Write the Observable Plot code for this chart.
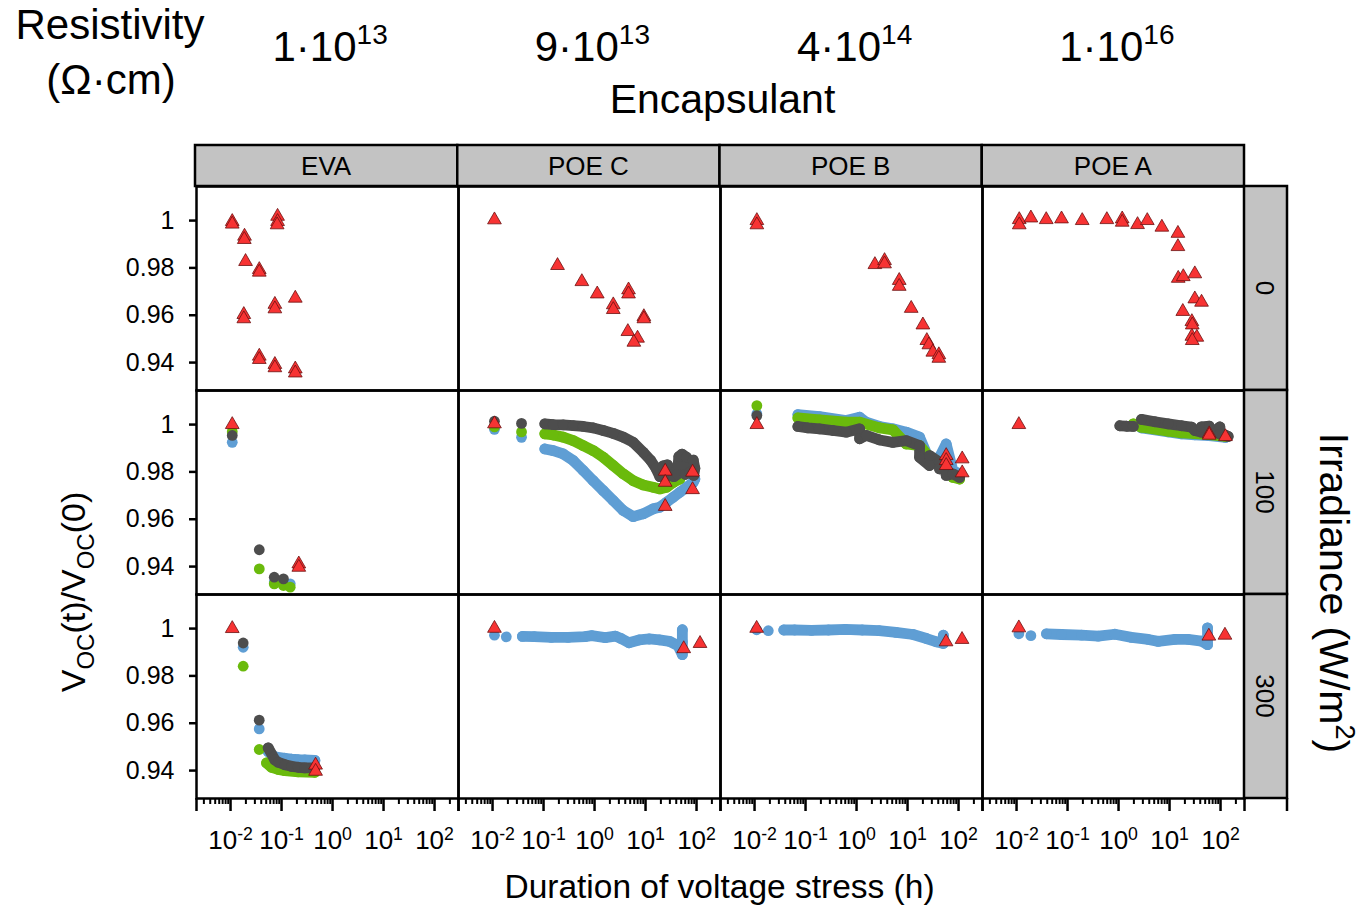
<!DOCTYPE html>
<html><head><meta charset="utf-8">
<script src="https://cdn.jsdelivr.net/npm/d3@7"></script>
<script src="https://cdn.jsdelivr.net/npm/@observablehq/plot@0.6"></script>
<style>
body{margin:0;background:#fff;}
#chart{position:relative;width:1358px;height:907px;}
</style></head><body><div id="chart"></div>
<script>
// ---------- categories & labels ----------
const encapsulants = ["EVA", "POE C", "POE B", "POE A"];
const resistivityMantissa = ["1", "9", "4", "1"];
const resistivityExponent = ["13", "13", "14", "16"];
const irradiances = [0, 100, 300];
const xMajorTicks = [0.01, 0.1, 1, 10, 100];
const xMinorTicks = [0.003,0.004,0.005,0.006,0.007,0.008,0.009,0.02,0.03,0.04,0.05,0.06,0.07,0.08,0.09,0.2,0.3,0.4,0.5,0.6,0.7,0.8,0.9,2,3,4,5,6,7,8,9,20,30,40,50,60,70,80,90,200];
const xDomain = [0.00215, 295];
const yTicks = [0.94, 0.96, 0.98, 1];
const yDomain = [0.9282, 1.0144];

// ---------- data: [encapsulant, irradiance, segment, [[hours, Voc ratio], ...]] ----------
const triangleGroups = [
  ["EVA", 0, 0, [[0.0108,0.9996],[0.0108,0.9985],[0.0188,0.9934],[0.0186,0.9920],[0.0197,0.9827],[0.0366,0.9793],[0.0366,0.9782],[0.0836,1.0018],[0.0836,0.9996],[0.082,0.9982],[0.186,0.9672],[0.074,0.9646],[0.074,0.9627],[0.0182,0.9603],[0.0182,0.9585],[0.0366,0.9427],[0.0366,0.9413],[0.074,0.9392],[0.074,0.9378],[0.186,0.9373],[0.186,0.9356]]],
  ["POE C", 0, 0, [[0.0109,1.0003],[0.188,0.9810],[0.564,0.9742],[1.13,0.9690],[2.33,0.9644],[2.33,0.9624],[4.64,0.9707],[4.64,0.9690],[9.27,0.9594],[9.27,0.9585],[4.5,0.9531],[6.97,0.9503],[5.9,0.9486]]],
  ["POE B", 0, 0, [[0.0111,1.0],[0.0111,0.9982],[2.29,0.9814],[3.54,0.9831],[3.54,0.9817],[6.87,0.9747],[6.87,0.9722],[11.8,0.9629],[20.0,0.9559],[23.9,0.9493],[26.2,0.9475],[31.3,0.9444],[41.1,0.9433],[41.1,0.9418]]],
  ["POE A", 0, 0, [[0.0113,1.0004],[0.0113,0.9982],[0.0191,1.0011],[0.0382,1.0004],[0.0762,1.0007],[0.194,1.0],[0.590,1.0004],[1.18,1.0007],[1.18,0.9993],[2.36,0.9983],[3.66,1.0],[7.07,0.9972],[14.6,0.9946],[14.6,0.9890],[14.8,0.9756],[18.6,0.9763],[31.3,0.9775],[31.3,0.9669],[42.4,0.9655],[18.2,0.9616],[27.4,0.9573],[27.9,0.9559],[27.4,0.9511],[34.3,0.9507],[27.9,0.9493]]],
  ["EVA", 100, 0, [[0.0108,1.0],[0.218,0.9411],[0.218,0.9397]]],
  ["POE C", 100, 0, [[0.0109,1.0003],[24.3,0.9803],[24.3,0.9756],[24.3,0.9654],[83.6,0.9799],[83.6,0.9725]]],
  ["POE B", 100, 0, [[0.0111,1.0],[57.3,0.9869],[57.3,0.9848],[57.3,0.9827],[118,0.9855],[118,0.9796]]],
  ["POE A", 100, 0, [[0.0111,1.0],[60.0,0.9961],[60.0,0.9955],[125,0.9949]]],
  ["EVA", 300, 0, [[0.0108,1.0],[0.465,0.9423],[0.465,0.9397]]],
  ["POE C", 300, 0, [[0.0109,1.0001],[56.1,0.9915],[117,0.9937]]],
  ["POE B", 300, 0, [[0.011,1.0001],[56.9,0.9944],[117,0.9954]]],
  ["POE A", 300, 0, [[0.0111,1.0003],[59.0,0.9968],[122,0.9972]]]
];

const blueGroups = [
  ["EVA", 100, 0, [[0.0108,0.9925],[0.072,0.9335],[0.109,0.9330],[0.148,0.9327]]],
  ["POE C", 100, 0, [[0.0109,0.9980],[0.037,0.9946]]],
  ["POE C", 100, 1, [[0.106,0.9897],[0.155,0.9890],[0.243,0.9876],[0.382,0.9848],[0.600,0.9806],[0.942,0.9763],[1.48,0.9721],[2.32,0.9679],[3.65,0.9637],[5.73,0.9611],[9.0,0.9623],[14.1,0.9644],[19.1,0.9651],[25.8,0.9672],[34.9,0.9693],[47.1,0.9714],[63.7,0.9735],[86.1,0.9756],[92.7,0.9770]]],
  ["POE B", 100, 0, [[0.0111,1.0045]]],
  ["POE B", 100, 1, [[0.0708,1.0042],[0.188,1.0034],[0.627,1.0017],[1.15,1.0031],[1.55,1.0010],[2.82,0.9992],[5.16,0.9982],[9.42,0.9968],[17.2,0.9947],[27.0,0.9848],[42.4,0.9862],[57.3,0.9918],[77.4,0.9806],[105,0.9792]]],
  ["POE A", 100, 1, [[2.82,0.9986],[9.42,0.9969],[17.2,0.9961],[31.4,0.9957],[60.0,0.9953],[125,0.9946]]],
  ["EVA", 300, 0, [[0.0177,0.9921],[0.0365,0.9576]]],
  ["EVA", 300, 1, [[0.0548,0.9480],[0.074,0.9458],[0.116,0.9452],[0.157,0.9448],[0.212,0.9446],[0.286,0.9445],[0.451,0.9443]]],
  ["POE C", 300, 0, [[0.0109,0.9972],[0.0186,0.9965]]],
  ["POE C", 300, 1, [[0.0385,0.9967],[0.066,0.9966],[0.1416,0.9963],[0.303,0.9963],[0.651,0.9966],[0.881,0.9970],[1.62,0.9962],[2.57,0.9968],[3.3,0.9958],[4.73,0.9940],[7.5,0.9952],[11.8,0.9956],[18.7,0.9952],[29.6,0.9946],[43.3,0.9928],[52.7,0.9890],[52.7,0.9995],[52.7,0.9944]]],
  ["POE B", 300, 0, [[0.011,0.9995],[0.0186,0.9991]]],
  ["POE B", 300, 1, [[0.0374,0.9994],[0.0611,0.9994],[0.131,0.9992],[0.281,0.9994],[0.603,0.9997],[1.29,0.9994],[2.77,0.9991],[5.95,0.9984],[12.8,0.9975],[23.5,0.9958],[37.1,0.9944],[50.4,0.9937],[50.4,0.9972]]],
  ["POE A", 300, 0, [[0.0111,0.9978],[0.0191,0.9970]]],
  ["POE A", 300, 1, [[0.0387,0.9978],[0.0762,0.9975],[0.188,0.9972],[0.399,0.9968],[0.847,0.9976],[1.80,0.9963],[3.82,0.9954],[6.0,0.9946],[12.7,0.9954],[23.2,0.9954],[42.4,0.9947],[55.6,0.9932],[55.6,1.0003]]]
];

const greenGroups = [
  ["EVA", 100, 0, [[0.0108,0.9970],[0.0366,0.9390],[0.0719,0.9327],[0.109,0.9320],[0.148,0.9313]]],
  ["POE C", 100, 0, [[0.0109,0.9990],[0.037,0.9969]]],
  ["POE C", 100, 1, [[0.106,0.9961],[0.155,0.9956],[0.243,0.9947],[0.382,0.9932],[0.600,0.9911],[0.942,0.9890],[1.48,0.9862],[2.32,0.9827],[3.65,0.9792],[5.73,0.9763],[9.0,0.9745],[14.1,0.9735],[19.1,0.9728],[25.8,0.9735],[34.9,0.9756],[47.1,0.9770]]],
  ["POE B", 100, 0, [[0.0111,1.0080]]],
  ["POE B", 100, 1, [[0.0708,1.0028],[0.188,1.0020],[0.627,1.0010],[1.15,1.0010],[2.82,0.9986],[5.16,0.9978],[9.42,0.9918],[17.2,0.9911],[27.0,0.9862],[42.4,0.9834],[57.3,0.9806],[77.4,0.9777],[105,0.9770]]],
  ["POE A", 100, 1, [[1.94,1.0003],[2.82,0.9989],[9.42,0.9972],[17.2,0.9965],[31.4,0.9962],[60.0,0.9958],[125,0.9950]]],
  ["EVA", 300, 0, [[0.0177,0.9841],[0.0365,0.9489]]],
  ["EVA", 300, 1, [[0.0508,0.9432],[0.0637,0.9414],[0.0861,0.9405],[0.116,0.9400],[0.212,0.9395],[0.451,0.9393]]]
];

const grayGroups = [
  ["EVA", 100, 0, [[0.0108,0.9954],[0.0366,0.9471],[0.0719,0.9355],[0.109,0.9348]]],
  ["POE C", 100, 0, [[0.0109,1.0014],[0.037,1.0005]]],
  ["POE C", 100, 1, [[0.106,1.0003],[0.155,1.0],[0.243,0.9999],[0.382,0.9996],[0.600,0.9992],[0.942,0.9986],[1.48,0.9975],[2.32,0.9963],[3.65,0.9947],[5.73,0.9925],[9.0,0.9883],[12.5,0.9850],[16.0,0.9815],[19.1,0.9780],[22.0,0.9825],[27.0,0.9830],[30.0,0.9785],[36.0,0.9780],[42.0,0.9790],[45.0,0.9865],[52.0,0.9875],[63.7,0.9862],[60.0,0.9790],[75.0,0.9800],[86.1,0.9850],[92.7,0.9815],[88.0,0.9785]]],
  ["POE B", 100, 0, [[0.0111,1.0038]]],
  ["POE B", 100, 1, [[0.0708,0.9992],[0.111,0.9986],[0.188,0.9982],[0.344,0.9975],[0.627,0.9968],[1.15,0.9982],[1.15,0.9940],[1.55,0.9954],[2.82,0.9935],[5.16,0.9925],[9.42,0.9932],[17.2,0.9911],[17.2,0.9862],[27.0,0.9827],[27.0,0.9869],[42.4,0.9841],[42.4,0.9813],[57.3,0.9806],[57.3,0.9785],[77.4,0.9792],[105,0.9777]]],
  ["POE A", 100, 1, [[1.06,0.9995],[1.44,0.9993],[1.94,0.9992]]],
  ["POE A", 100, 2, [[2.82,1.0022],[5.16,1.0012],[9.42,1.0003],[17.2,0.9995],[27.0,0.9989],[31.4,0.9975],[42.4,0.9968],[42.4,0.9990],[60.0,0.9993],[66.6,0.9962],[97.0,0.9990],[97.0,0.9960],[125,0.9955],[141,0.9950]]],
  ["EVA", 300, 0, [[0.0177,0.9939],[0.0365,0.9613]]],
  ["EVA", 300, 1, [[0.0548,0.9496],[0.074,0.9445],[0.0861,0.9435],[0.116,0.9425],[0.157,0.9418],[0.212,0.9414],[0.286,0.9411],[0.451,0.9411]]]
];

// ---------- styles ----------
const FONT = "'Liberation Sans', Arial, sans-serif";
const BLUE = "#5f9ed4", GREEN = "#6aba0c", GRAY = "#4d4d4d", RED = "#f73333", REDSTROKE = "#6b1010";
const W = 1358, H = 907, mL = 195, mR = 114, mT = 186, mB = 109;
const DOT_R = 5.4;

const flat = groups => groups.flatMap(([enc, irr, seg, pts]) => pts.map(([t, v]) => ({enc, irr, seg, t, v})));
const tri = flat(triangleGroups), blue = flat(blueGroups), green = flat(greenGroups), gray = flat(grayGroups);

function seriesMarks(rows, color) {
  return [
    Plot.line(rows, {filter: d => d.seg > 0, x: "t", y: "v", fx: "enc", fy: "irr", z: d => d.enc + d.irr + "-" + d.seg,
      stroke: color, strokeWidth: DOT_R * 2, strokeLinecap: "round", strokeLinejoin: "round"}),
    Plot.dot(rows, {x: "t", y: "v", fx: "enc", fy: "irr", r: DOT_R, fill: color})
  ];
}

const svg = Plot.plot({
  width: W, height: H,
  marginTop: mT, marginBottom: mB, marginLeft: mL, marginRight: mR,
  style: {fontFamily: FONT, color: "black", background: "white", overflow: "visible"},
  x: {type: "log", domain: xDomain},
  y: {domain: yDomain},
  fx: {domain: encapsulants, padding: 0, axis: null},
  fy: {domain: irradiances, padding: 0, axis: null},
  marks: [
    ...seriesMarks(blue, BLUE),
    ...seriesMarks(green, GREEN),
    ...seriesMarks(gray, GRAY),
    Plot.dot(tri, {x: "t", y: "v", fx: "enc", fy: "irr", symbol: "triangle", r: 5.1, fill: RED, stroke: REDSTROKE, strokeWidth: 0.8}),
    Plot.frame({stroke: "black", strokeWidth: 2.5}),
    Plot.axisY({ticks: yTicks, tickFormat: d => d === 1 ? "1" : d.toFixed(2), tickSize: 7, tickPadding: 15, fontSize: 25, strokeWidth: 2.5, label: null}),
    Plot.axisX({ticks: xMinorTicks, tickSize: 6, strokeWidth: 2, fill: "none", label: null}),
    Plot.axisX({ticks: xDomain, tickSize: 13, strokeWidth: 2.5, fill: "none", label: null}),
    Plot.axisX({ticks: xMajorTicks, tickFormat: d => "10^" + Math.round(Math.log10(d)), tickSize: 13, tickPadding: 19, fontSize: 26, strokeWidth: 2.5, label: null})
  ]
});

document.getElementById("chart").appendChild(svg);
const s = d3.select(svg);

// superscript exponents on the x tick labels
s.selectAll("text").each(function() {
  if (this.querySelector("tspan")) return;
  const m = (this.textContent || "").match(/^10\^(-?\d+)$/);
  if (!m) return;
  const t = d3.select(this);
  t.text("10");
  t.append("tspan").attr("dy", "-0.5em").attr("font-size", "0.68em").text(m[1]);
});

// ---------- strips ----------
const pw = (W - mL - mR) / encapsulants.length;
const ph = (H - mT - mB) / irradiances.length;
const stripTop = 145, stripRightW = 43;
const g = s.append("g").attr("font-family", FONT);
encapsulants.forEach((e, i) => {
  g.append("rect").attr("x", mL + i * pw).attr("y", stripTop).attr("width", pw).attr("height", mT - stripTop)
    .attr("fill", "#c3c3c3").attr("stroke", "black").attr("stroke-width", 2.5);
  g.append("text").attr("x", mL + i * pw + pw / 2).attr("y", (stripTop + mT) / 2).attr("dy", "0.35em")
    .attr("text-anchor", "middle").attr("font-size", 26).text(e);
  // resistivity headers
  const r = g.append("text").attr("x", mL + i * pw + pw / 2 + 4).attr("y", 61).attr("text-anchor", "middle").attr("font-size", 42);
  r.append("tspan").text(resistivityMantissa[i] + "·10");
  r.append("tspan").attr("dy", -17).attr("font-size", 28).text(resistivityExponent[i]);
});
irradiances.forEach((v, j) => {
  const x0 = W - mR, y0 = mT + j * ph;
  g.append("rect").attr("x", x0).attr("y", y0).attr("width", stripRightW).attr("height", ph)
    .attr("fill", "#c3c3c3").attr("stroke", "black").attr("stroke-width", 2.5);
  g.append("text").attr("transform", `translate(${x0 + stripRightW / 2},${y0 + ph / 2}) rotate(90)`)
    .attr("dy", "0.35em").attr("text-anchor", "middle").attr("font-size", 26).text(v);
});
g.append("line").attr("x1", W - mR + stripRightW).attr("x2", W - mR + stripRightW)
  .attr("y1", H - mB).attr("y2", H - mB + 13).attr("stroke", "black").attr("stroke-width", 2.5);

// ---------- titles ----------
g.append("text").attr("x", 110).attr("y", 39).attr("text-anchor", "middle").attr("font-size", 42).text("Resistivity");
g.append("text").attr("x", 111).attr("y", 94).attr("text-anchor", "middle").attr("font-size", 42).text("(Ω·cm)");
g.append("text").attr("x", mL + 2 * pw + 3).attr("y", 113).attr("text-anchor", "middle").attr("font-size", 41).text("Encapsulant");
g.append("text").attr("x", mL + 2 * pw).attr("y", 898).attr("text-anchor", "middle").attr("font-size", 33.5).text("Duration of voltage stress (h)");

const yl = g.append("text").attr("transform", `translate(85,592) rotate(-90)`).attr("text-anchor", "middle").attr("font-size", 34);
yl.append("tspan").text("V");
yl.append("tspan").attr("dy", 9).attr("font-size", 24).text("OC");
yl.append("tspan").attr("dy", -9).text("(t)/V");
yl.append("tspan").attr("dy", 9).attr("font-size", 24).text("OC");
yl.append("tspan").attr("dy", -9).text("(0)");

const il = g.append("text").attr("transform", `translate(1320,593) rotate(90)`).attr("text-anchor", "middle").attr("font-size", 41);
il.append("tspan").text("Irradiance (W/m");
il.append("tspan").attr("dy", -16).attr("font-size", 27).text("2");
il.append("tspan").attr("dy", 16).text(")");
</script></body></html>
